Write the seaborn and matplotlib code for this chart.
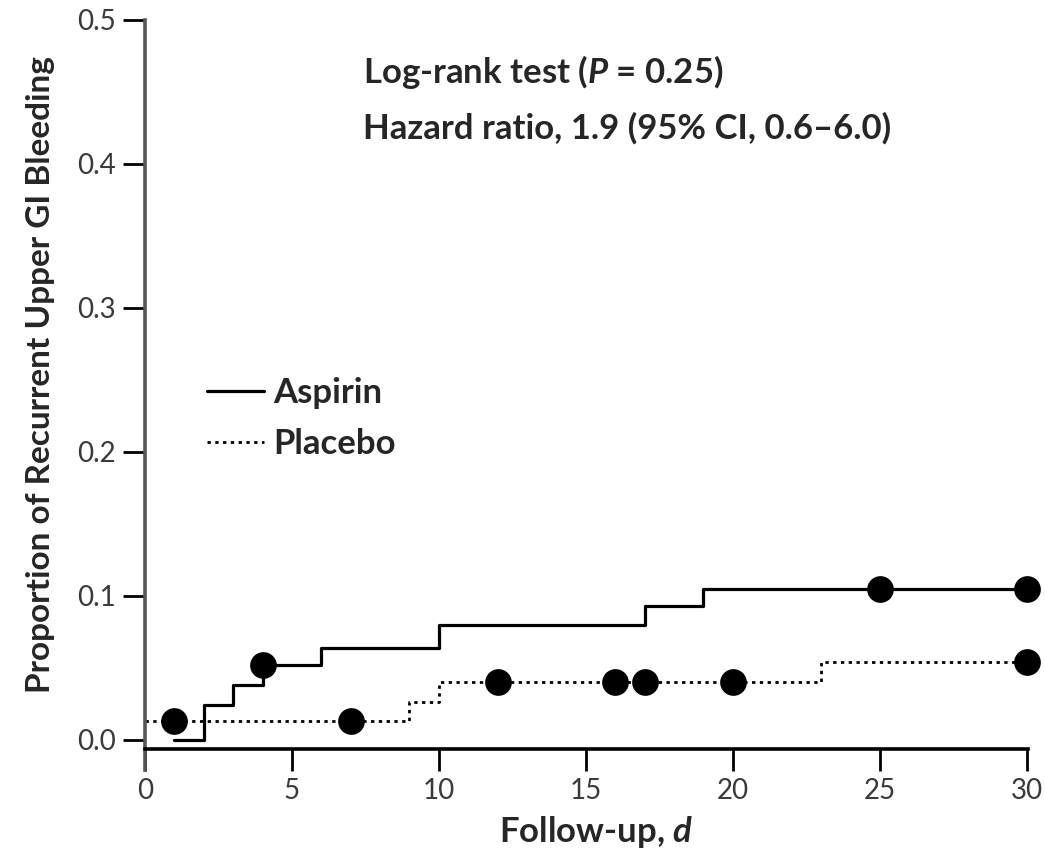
import matplotlib
matplotlib.use("Agg")
import matplotlib.pyplot as plt
import seaborn as sns
from matplotlib.lines import Line2D

# ---- data ----
aspirin_t = [1, 2, 3, 4, 6, 10, 17, 19, 30]
aspirin_p = [0.0, 0.024, 0.038, 0.052, 0.064, 0.080, 0.093, 0.105, 0.105]
placebo_t = [0, 9, 10, 23, 30]
placebo_p = [0.013, 0.026, 0.040, 0.054, 0.054]

aspirin_cens_t = [4, 25, 30]
aspirin_cens_p = [0.052, 0.105, 0.105]
placebo_cens_t = [1, 7, 12, 16, 17, 20, 30]
placebo_cens_p = [0.013, 0.013, 0.040, 0.040, 0.040, 0.040, 0.054]

x_ticks = [0, 5, 10, 15, 20, 25, 30]
y_ticks = [0.0, 0.1, 0.2, 0.3, 0.4, 0.5]
series_names = ["Aspirin", "Placebo"]

sns.set_theme(style="white")
plt.rcParams["font.family"] = ["Lato", "DejaVu Sans"]
plt.rcParams["mathtext.fontset"] = "custom"
plt.rcParams["mathtext.rm"] = "Lato:bold"
plt.rcParams["mathtext.it"] = "Lato:italic:bold"
plt.rcParams["mathtext.bf"] = "Lato:bold"

fig = plt.figure(figsize=(10.45, 8.52), dpi=100)
ax = fig.add_axes([145 / 1045, 103 / 852, 883 / 1045, 729 / 852])

dotted = (0, (1.2, 1.6))
sns.lineplot(x=aspirin_t, y=aspirin_p, ax=ax, drawstyle="steps-post",
             estimator=None, color="black", linewidth=2.3, label=series_names[0])
sns.lineplot(x=placebo_t, y=placebo_p, ax=ax, drawstyle="steps-post",
             estimator=None, color="black", linewidth=2.0,
             linestyle=dotted, label=series_names[1])

for t, p in [(aspirin_cens_t, aspirin_cens_p), (placebo_cens_t, placebo_cens_p)]:
    sns.scatterplot(x=t, y=p, ax=ax, color="black", s=370, edgecolor="black",
                    linewidth=0, legend=False, clip_on=False, zorder=5)

ax.set_xlim(0, 30.05)
ax.set_ylim(-0.0063, 0.5)
ax.set_xticks(x_ticks)
ax.set_xticklabels([str(v) for v in x_ticks])
ax.set_yticks(y_ticks)
ax.set_yticklabels([f"{v:.1f}" for v in y_ticks])

for s in ["top", "right"]:
    ax.spines[s].set_visible(False)
ax.spines["left"].set_color("#555555")
ax.spines["left"].set_linewidth(2.6)
ax.spines["left"].set_bounds(-0.0209, 0.5)
ax.spines["bottom"].set_color("black")
ax.spines["bottom"].set_linewidth(2.6)

ax.tick_params(axis="both", which="major", direction="out", length=16, width=2.0,
               color="black", labelsize=20, labelcolor="#3a3a3a", pad=5,
               left=True, bottom=True)

ax.set_xlabel("Follow-up, $\\mathit{d}$", fontsize=25, fontweight="bold",
              labelpad=7, x=0.511)
ax.set_ylabel("Proportion of Recurrent Upper GI Bleeding", fontsize=24,
              fontweight="bold", labelpad=16, y=0.514)

ax.text(0.247, 0.913, "Log-rank test ($P$ = 0.25)", transform=ax.transAxes,
        fontsize=25, fontweight="bold", ha="left", va="baseline")
ax.text(0.247, 0.838, "Hazard ratio, 1.9 (95% CI, 0.6\u20136.0)", transform=ax.transAxes,
        fontsize=25, fontweight="bold", ha="left", va="baseline")

handles = [Line2D([], [], color="black", linewidth=2.3),
           Line2D([], [], color="black", linewidth=2.0, linestyle=dotted)]
ax.legend(handles, series_names, loc="center left", bbox_to_anchor=(0.07, 0.453),
          frameon=False, handlelength=1.65, handletextpad=0.25, borderpad=0,
          borderaxespad=0, labelspacing=0.55, prop={"weight": "bold", "size": 25})

fig.savefig("out.png", dpi=100)
